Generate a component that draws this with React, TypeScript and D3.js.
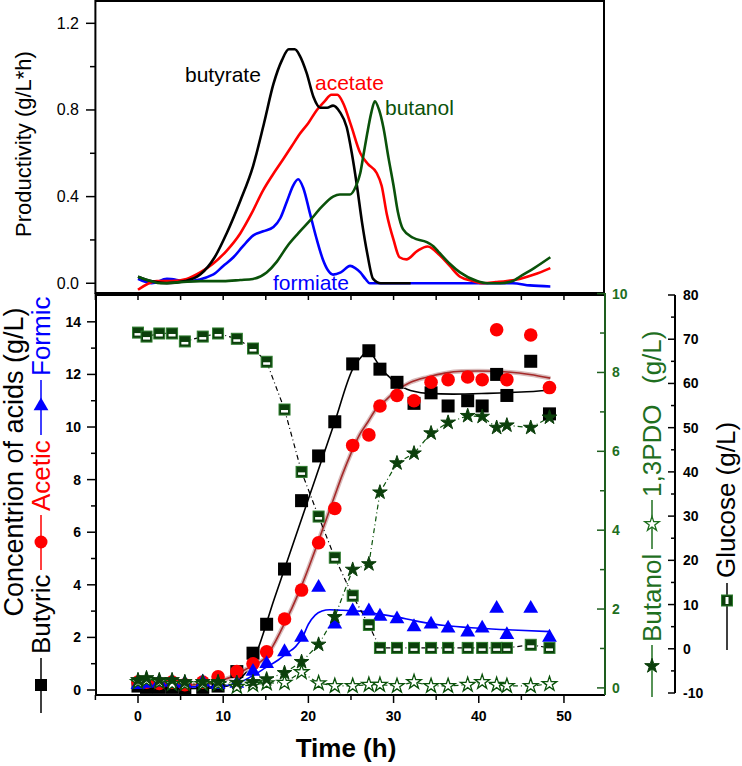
import React from 'react';
import * as d3 from 'd3';

// ---------- bottom panel data (shared sampling times, h) ----------
const times = [0, 1, 2.5, 4, 5.5, 7.6, 9.4, 11.6, 13.5, 15.1, 17.2, 19.2, 21.2, 23.1, 25.2, 27.1, 28.4, 30.4, 32.4, 34.4, 36.4, 38.7, 40.4, 42.1, 43.3, 46.1, 48.3];
const butyric = [0.15, 0.1, 0.1, 0.1, 0.05, 0.1, 0.15, 0.7, 1.4, 2.5, 4.6, 7.2, 8.9, 10.2, 12.4, 12.9, 12.2, 11.7, 10.9, 11.3, 10.8, 11.0, 10.8, 12.0, 11.2, 12.5, 10.5];
const acetic = [0.3, 0.3, 0.25, 0.3, 0.2, 0.3, 0.5, 0.7, 1.0, 1.45, 2.7, 3.8, 5.6, 6.9, 9.3, 9.7, 10.8, 11.2, 11.0, 11.7, 11.8, 11.9, 11.8, 13.7, 11.8, 13.5, 11.5];
const formic = [0.2, 0.25, 0.3, 0.3, 0.25, 0.3, 0.2, 0.25, 0.7, 1.0, 1.45, 2.0, 3.9, 2.5, 3.0, 3.0, 2.8, 2.7, 2.4, 2.5, 2.35, 2.2, 2.35, 3.1, 2.1, 3.1, 2.0];
const butanol = [0.2, 0.25, 0.2, 0.2, 0.15, 0.15, 0.15, 0.13, 0.15, 0.22, 0.38, 0.66, 1.1, 1.8, 3.0, 3.14, 4.96, 5.7, 5.95, 6.46, 6.73, 6.9, 6.88, 6.6, 6.66, 6.6, 6.86];
const pdo = [0.15, 0.2, 0.15, 0.1, 0.1, 0.1, 0.1, 0.03, 0.08, 0.12, 0.13, 0.4, 0.12, 0.05, 0.05, 0.08, 0.08, 0.05, 0.15, 0.05, 0.05, 0.08, 0.15, 0.08, 0.05, 0.05, 0.1];
const glucose = [71.5, 70.6, 71.3, 71.3, 69.5, 70.6, 71.3, 70.1, 67.9, 64.9, 54.1, 40, 29.9, 20.6, 12, 5.4, 0.2, 0.2, 0.2, 0.2, 0.2, 0.2, 0.2, 0.2, 0.2, 0.9, 0.2];

// fitted curves (bottom panel)
const butyricFitT = [0, 5, 9, 10.5, 11.5, 12.5, 13.5, 16, 20, 23.1, 25.2, 26.3, 27.1, 27.8, 28.6, 29.5, 30.5, 31.5, 32.5, 34, 37, 41, 45, 48.4];
const butyricFitV = [0.05, 0.05, 0.08, 0.15, 0.3, 0.6, 1.1, 3.47, 7.26, 10.2, 12.2, 12.7, 12.9, 12.6, 12.2, 11.9, 11.6, 11.45, 11.35, 11.28, 11.25, 11.28, 11.33, 11.4];
const aceticFitT = [0, 6, 9, 11, 13, 15, 17, 19, 21, 22, 23, 24, 25, 26, 27, 28, 29, 30.4, 32, 34, 36, 38, 40, 43, 46, 48.4];
const aceticFitV = [0.15, 0.18, 0.3, 0.5, 0.85, 1.25, 2.4, 3.8, 5.5, 6.4, 7.3, 8.2, 9.0, 9.7, 10.2, 10.7, 11.0, 11.4, 11.7, 11.9, 12.05, 12.12, 12.13, 12.1, 12.0, 11.86];
const formicFitT = [0, 8, 10, 12, 13.5, 15, 16.5, 17.5, 18.5, 19.3, 20, 20.8, 21.6, 22.5, 24, 26, 28, 30, 33, 36, 40, 44, 48.4];
const formicFitV = [0.12, 0.12, 0.15, 0.3, 0.55, 0.85, 1.15, 1.4, 1.65, 2.0, 2.5, 2.85, 3.0, 3.05, 3.03, 3.0, 2.9, 2.8, 2.6, 2.45, 2.35, 2.28, 2.22];

// ---------- top panel: productivity (g/L*h) ----------
const prodButyrateT = [0, 1.5, 3.4, 5.5, 7.3, 9, 10.4, 12, 13.5, 14.8, 15.9, 16.9, 17.7, 18.4, 19, 19.8, 20.6, 21.4, 22.2, 22.9, 23.7, 24.5, 25.1, 25.7, 26.3, 26.9, 27.6, 28.5, 32];
const prodButyrateV = [0.03, 0.01, 0, 0.01, 0.04, 0.12, 0.23, 0.38, 0.54, 0.74, 0.92, 1.03, 1.08, 1.08, 1.05, 0.97, 0.86, 0.81, 0.81, 0.82, 0.79, 0.72, 0.6, 0.45, 0.28, 0.14, 0.02, 0, 0];
const prodAcetateT = [0, 2.2, 4, 5.7, 7.3, 8.8, 10.4, 12, 13.3, 14.7, 15.8, 17, 18, 19, 20, 21, 21.9, 22.7, 23.4, 24.1, 25, 26.1, 27, 28, 28.6, 29.2, 30, 30.7, 31.5, 32.8, 34, 35.4, 36.6, 37.8, 39.3, 40.5, 42, 43.3, 44.8, 46.5, 48.4];
const prodAcetateV = [-0.03, 0.01, 0.01, 0.02, 0.05, 0.09, 0.15, 0.23, 0.32, 0.43, 0.5, 0.57, 0.63, 0.69, 0.74, 0.8, 0.84, 0.87, 0.87, 0.83, 0.73, 0.6, 0.55, 0.51, 0.45, 0.32, 0.2, 0.12, 0.11, 0.15, 0.17, 0.13, 0.08, 0.03, 0.01, 0, 0.005, 0.01, 0.02, 0.04, 0.07];
const prodButanolT = [0, 1.5, 2.7, 5, 7.3, 10, 12, 13.5, 15.1, 16.3, 17.5, 18.8, 20.2, 21.5, 22.9, 23.7, 24.9, 25.6, 26.1, 26.5, 26.9, 27.4, 27.8, 28.3, 28.8, 29.4, 30, 30.5, 31.1, 32.3, 33.9, 34.7, 35.4, 36.6, 37.8, 39.8, 41, 42.5, 44, 44.8, 46.5, 48.4];
const prodButanolV = [0.03, 0.01, 0, 0.005, 0.01, 0.01, 0.015, 0.02, 0.05, 0.1, 0.17, 0.23, 0.29, 0.35, 0.4, 0.41, 0.41, 0.45, 0.51, 0.6, 0.69, 0.79, 0.84, 0.8, 0.72, 0.58, 0.45, 0.33, 0.25, 0.21, 0.19, 0.17, 0.14, 0.09, 0.05, 0.01, 0, 0, 0.01, 0.03, 0.07, 0.12];
const prodFormiateT = [0, 1.6, 3.4, 5.7, 8.8, 10, 11.2, 12.3, 13.5, 14.7, 15.9, 16.7, 17.5, 18.2, 18.8, 19.4, 20.2, 21, 21.7, 22.3, 22.9, 23.8, 24.9, 25.5, 26.1, 26.7, 27.2, 28, 35, 44, 46, 48.4];
const prodFormiateV = [0.02, 0, 0.02, 0.01, 0.04, 0.08, 0.12, 0.17, 0.22, 0.24, 0.26, 0.3, 0.38, 0.45, 0.48, 0.44, 0.32, 0.2, 0.11, 0.06, 0.04, 0.05, 0.08, 0.07, 0.05, 0.02, 0, 0, 0, 0, -0.01, -0.015];

// ticks
const topYTicks = [0, 0.4, 0.8, 1.2];
const topYMinor = [0.2, 0.6, 1.0];
const topXTicks = [-5, 0, 5, 10, 15, 20, 25, 30, 35, 40, 45, 50];
const xTicks = [0, 10, 20, 30, 40, 50];
const xMinor = [-5, 5, 15, 25, 35, 45];
const leftTicks = [0, 2, 4, 6, 8, 10, 12, 14];
const leftMinor = [1, 3, 5, 7, 9, 11, 13];
const greenTicks = [0, 2, 4, 6, 8, 10];
const greenMinor = [1, 3, 5, 7, 9];
const glucoseTicks = [-10, 0, 10, 20, 30, 40, 50, 60, 70, 80];
const glucoseMinor = [-5, 5, 15, 25, 35, 45, 55, 65, 75];

const FONT = 'Liberation Sans, Arial, Helvetica, sans-serif';
const GREEN_TXT = '#1f6f1f';
const GREEN_DARK = '#0b3f0b';
const GREEN_LINE = '#0a520a';

export default function App() {
  const x = d3.scaleLinear().domain([-5, 54.7]).range([95.4, 604]);
  const yTop = d3.scaleLinear().domain([-0.045, 1.303]).range([293, 1]);
  const yL = d3.scaleLinear().domain([-0.19, 15.02]).range([695, 295]);
  const yG = d3.scaleLinear().domain([-0.18, 10]).range([695, 293.6]);
  const yGl = d3.scaleLinear().domain([-10, 80]).range([693, 295]);

  const mk = (ts: number[], vs: number[], ys: d3.ScaleLinear<number, number>, curve: any) =>
    d3.line<number>().x((_, i) => x(ts[i])).y((v) => ys(v)).curve(curve)(vs) || '';

  const star = d3.symbol().type(d3.symbolStar).size(66)() || '';
  const tri = d3.symbol().type(d3.symbolTriangle).size(95)() || '';

  const left = 96, right = 605, bTop = 295, bBot = 695;

  return (
    <svg width={742} height={766} style={{ position: 'absolute', left: 0, top: 0, background: '#fff' }} fontFamily={FONT}>
      <rect x={0} y={0} width={742} height={766} fill="#fff" />
      {/* ================= TOP PANEL ================= */}
      <rect x={95.4} y={1} width={604 - 95.4} height={292} fill="none" stroke="#000" strokeWidth={2} />
      {topYTicks.map((t) => (
        <g key={'ty' + t}>
          <line x1={86} x2={95.4} y1={yTop(t)} y2={yTop(t)} stroke="#000" strokeWidth={1.5} />
          <text x={79} y={yTop(t) + 5.5} textAnchor="end" fontSize={16}>{t.toFixed(1)}</text>
        </g>
      ))}
      {topYMinor.map((t) => (
        <line key={'tym' + t} x1={90} x2={95.4} y1={yTop(t)} y2={yTop(t)} stroke="#000" strokeWidth={1.5} />
      ))}
      {topXTicks.map((t) => (
        <line key={'tx' + t} x1={x(t)} x2={x(t)} y1={293} y2={300} stroke="#000" strokeWidth={1.5} />
      ))}
      <text transform={`translate(31,144) rotate(-90)`} textAnchor="middle" fontSize={22}>Productivity (g/L*h)</text>

      <path d={mk(prodFormiateT, prodFormiateV, yTop, d3.curveMonotoneX)} fill="none" stroke="#0000ff" strokeWidth={2.6} />
      <path d={mk(prodAcetateT, prodAcetateV, yTop, d3.curveMonotoneX)} fill="none" stroke="#ff0000" strokeWidth={2.6} />
      <path d={mk(prodButyrateT, prodButyrateV, yTop, d3.curveMonotoneX)} fill="none" stroke="#000" strokeWidth={2.6} />
      <path d={mk(prodButanolT, prodButanolV, yTop, d3.curveMonotoneX)} fill="none" stroke={GREEN_LINE} strokeWidth={2.6} />

      <text x={185} y={82} fontSize={21} fill="#000">butyrate</text>
      <text x={315} y={90} fontSize={21} fill="#ff0000">acetate</text>
      <text x={385} y={115} fontSize={21} fill={GREEN_LINE}>butanol</text>
      <text x={273} y={290} fontSize={21} fill="#0000ff">formiate</text>

      {/* ================= BOTTOM PANEL ================= */}
      <line x1={left} x2={right} y1={bTop} y2={bTop} stroke="#000" strokeWidth={2} />
      <line x1={left} x2={right} y1={bBot} y2={bBot} stroke="#000" strokeWidth={2} />
      <line x1={left} x2={left} y1={bTop} y2={bBot} stroke="#000" strokeWidth={2} />
      <line x1={right} x2={right} y1={293} y2={bBot} stroke="#1e5e1e" strokeWidth={2} />
      <line x1={675} x2={675} y1={yGl(80)} y2={yGl(-10)} stroke="#000" strokeWidth={2} />

      {/* x axis */}
      {xTicks.map((t) => (
        <g key={'bx' + t}>
          <line x1={x(t)} x2={x(t)} y1={bBot} y2={bBot + 8} stroke="#000" strokeWidth={1.5} />
          <text x={x(t)} y={721} textAnchor="middle" fontSize={14} fontWeight="bold">{t}</text>
        </g>
      ))}
      {xMinor.map((t) => (
        <line key={'bxm' + t} x1={x(t)} x2={x(t)} y1={bBot} y2={bBot + 5} stroke="#000" strokeWidth={1.5} />
      ))}
      <text x={346} y={757} textAnchor="middle" fontSize={26} fontWeight="bold">Time (h)</text>

      {/* left axis */}
      {leftTicks.map((t) => (
        <g key={'ly' + t}>
          <line x1={left - 9} x2={left} y1={yL(t)} y2={yL(t)} stroke="#000" strokeWidth={1.5} />
          <text x={81} y={yL(t) + 5} textAnchor="end" fontSize={14} fontWeight="bold">{t}</text>
        </g>
      ))}
      {leftMinor.map((t) => (
        <line key={'lym' + t} x1={left - 5} x2={left} y1={yL(t)} y2={yL(t)} stroke="#000" strokeWidth={1.5} />
      ))}

      {/* green axis */}
      {greenTicks.map((t) => (
        <g key={'gy' + t}>
          <line x1={right - 8} x2={right} y1={yG(t)} y2={yG(t)} stroke="#1e5e1e" strokeWidth={1.5} />
          <text x={612} y={yG(t) + 5} fontSize={14} fontWeight="bold" fill={GREEN_TXT}>{t}</text>
        </g>
      ))}
      {greenMinor.map((t) => (
        <line key={'gym' + t} x1={right - 5} x2={right} y1={yG(t)} y2={yG(t)} stroke="#1e5e1e" strokeWidth={1.5} />
      ))}

      {/* glucose axis */}
      {glucoseTicks.map((t) => (
        <g key={'gl' + t}>
          <line x1={668} x2={675} y1={yGl(t)} y2={yGl(t)} stroke="#000" strokeWidth={1.5} />
          <text x={683} y={yGl(t) + 5} fontSize={14} fontWeight="bold">{t}</text>
        </g>
      ))}
      {glucoseMinor.map((t) => (
        <line key={'glm' + t} x1={671} x2={675} y1={yGl(t)} y2={yGl(t)} stroke="#000" strokeWidth={1.5} />
      ))}

      {/* axis titles / legends */}
      <text transform={`translate(23,462) rotate(-90)`} textAnchor="middle" fontSize={27}>Concentrion of acids (g/L)</text>
      <g>
        <line x1={41} x2={41} y1={713} y2={658} stroke="#000" strokeWidth={1.5} />
        <rect x={35} y={679} width={12} height={12} fill="#000" />
        <text transform={`translate(50,654) rotate(-90)`} fontSize={26}>Butyric</text>
        <line x1={41} x2={41} y1={570} y2={515} stroke="#ff0000" strokeWidth={1.5} />
        <circle cx={41} cy={542} r={6.5} fill="#ff0000" />
        <text transform={`translate(50,511) rotate(-90)`} fontSize={26} fill="#ff0000">Acetic</text>
        <line x1={41} x2={41} y1={435} y2={380} stroke="#0000ff" strokeWidth={1.5} />
        <path d={tri} transform="translate(41,406)" fill="#0000ff" />
        <text transform={`translate(50,376) rotate(-90)`} fontSize={26} fill="#0000ff">Formic</text>
      </g>

      <g>
        <line x1={652} x2={652} y1={697} y2={645} stroke={GREEN_TXT} strokeWidth={1.5} />
        <path d={star} transform="translate(652,666)" fill={GREEN_DARK} stroke={GREEN_DARK} />
        <text transform={`translate(661,642) rotate(-90)`} fontSize={26} fill={GREEN_TXT}>Butanol</text>
        <line x1={652} x2={652} y1={549} y2={500} stroke={GREEN_TXT} strokeWidth={1.5} />
        <path d={star} transform="translate(652,524)" fill="#fff" stroke={GREEN_TXT} strokeWidth={1.3} />
        <text transform={`translate(661,497) rotate(-90)`} fontSize={26} fill={GREEN_TXT}>1,3PDO</text>
        <text transform={`translate(661,384) rotate(-90)`} fontSize={26} fill={GREEN_TXT}>(g/L)</text>
      </g>

      <g>
        <line x1={727} x2={727} y1={650} y2={583} stroke="#000" strokeWidth={1.5} />
        <rect x={721.5} y={595} width={11} height={11} fill={GREEN_DARK} stroke="#2e7d2e" strokeWidth={1} />
        <rect x={725.5} y={597} width={3} height={7} fill="#fff" />
        <text transform={`translate(735,578) rotate(-90)`} fontSize={26}>Glucose (g/L)</text>
      </g>

      {/* fits */}
      <path d={mk(butyricFitT, butyricFitV, yL, d3.curveMonotoneX)} fill="none" stroke="#000" strokeWidth={1.6} />
      <path d={mk(aceticFitT, aceticFitV, yL, d3.curveMonotoneX)} fill="none" stroke="#d9bcbc" strokeWidth={4.5} />
      <path d={mk(aceticFitT, aceticFitV, yL, d3.curveMonotoneX)} fill="none" stroke="#a52a2a" strokeWidth={1.6} />
      <path d={mk(formicFitT, formicFitV, yL, d3.curveMonotoneX)} fill="none" stroke="#0000ff" strokeWidth={1.6} />

      {/* connecting lines */}
      <path d={mk(times, glucose, yGl, d3.curveLinear)} fill="none" stroke="#000" strokeWidth={1.2} strokeDasharray="5,3,1,3" />
      <path d={mk(times, butanol, yG, d3.curveLinear)} fill="none" stroke={GREEN_LINE} strokeWidth={1.2} strokeDasharray="5,3,1,3" />
      <path d={mk(times, pdo, yG, d3.curveLinear)} fill="none" stroke={GREEN_LINE} strokeWidth={1.2} strokeDasharray="5,3,1,3" />

      {/* markers */}
      {times.map((t, i) => (
        <rect key={'bs' + i} x={x(t) - 6.5} y={yL(butyric[i]) - 6.5} width={13} height={13} fill="#000" />
      ))}
      {times.map((t, i) => (
        <circle key={'ac' + i} cx={x(t)} cy={yL(acetic[i])} r={6.8} fill="#ff0000" />
      ))}
      {times.map((t, i) => (
        <path key={'fo' + i} d={tri} transform={`translate(${x(t)},${yL(formic[i])})`} fill="#0000ff" />
      ))}
      {times.map((t, i) => (
        <path key={'pd' + i} d={star} transform={`translate(${x(t)},${yG(pdo[i])})`} fill="#fff" stroke={GREEN_LINE} strokeWidth={1.3} />
      ))}
      {times.map((t, i) => (
        <path key={'bu' + i} d={star} transform={`translate(${x(t)},${yG(butanol[i])})`} fill={GREEN_DARK} stroke={GREEN_DARK} strokeWidth={1} />
      ))}
      {times.map((t, i) => (
        <g key={'gl' + i} transform={`translate(${x(t)},${yGl(glucose[i])})`}>
          <rect x={-5.5} y={-5.5} width={11} height={11} fill={GREEN_DARK} stroke="#2e7d2e" strokeWidth={1} />
          <rect x={-3.5} y={0.5} width={7} height={2.5} fill="#fff" />
        </g>
      ))}
    </svg>
  );
}
